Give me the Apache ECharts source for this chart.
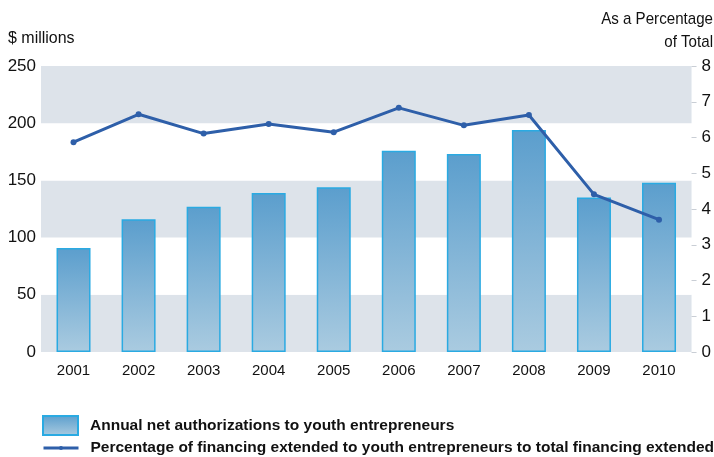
<!DOCTYPE html>
<html>
<head>
<meta charset="utf-8">
<script src="https://cdn.jsdelivr.net/npm/echarts@6/dist/echarts.min.js"></script>
<style>
  html, body { margin: 0; padding: 0; background: #fff; }
  #chart { width: 714px; height: 457px; }
</style>
</head>
<body>
<div id="chart"></div>
<script>
// Youth entrepreneur financing, 2001-2010
const years = ['2001', '2002', '2003', '2004', '2005', '2006', '2007', '2008', '2009', '2010'];
// Annual net authorizations ($ millions)
const authorizations = [91, 116, 127, 139, 144, 176, 173, 194, 135, 148];
// Share of total financing (%)
const percentOfTotal = [5.87, 6.65, 6.11, 6.38, 6.15, 6.83, 6.34, 6.63, 4.41, 3.70];

const barName = 'Annual net authorizations to youth entrepreneurs';
const lineName = 'Percentage of financing extended to youth entrepreneurs to total financing extended';

const sans = '"Liberation Sans", Arial, Helvetica, sans-serif';
const lineColor = '#2e5fa9';

const barFill = new echarts.graphic.LinearGradient(0, 0, 0, 1, [
  { offset: 0, color: '#5b9ecd' },
  { offset: 1, color: '#aacbe0' }
]);

const chart = echarts.init(document.getElementById('chart'), null, { renderer: 'canvas' });

chart.setOption({
  animation: false,
  backgroundColor: '#ffffff',
  grid: { left: 41, right: 22, top: 66, bottom: 105 },
  graphic: [
    {
      type: 'text', left: 8, top: 30, scaleX: 0.94,
      style: { text: '$ millions', font: '17px ' + sans, fill: '#111' }
    },
    {
      type: 'text', x: 713, y: 8, scaleX: 0.89,
      style: {
        text: 'As a Percentage\nof Total', font: '17px ' + sans, fill: '#111',
        align: 'right', lineHeight: 23
      }
    }
  ],
  legend: [
    {
      data: [{ name: barName, icon: 'rect' }],
      left: 42, top: 415, padding: 0,
      itemWidth: 35, itemHeight: 19,
      textStyle: { fontFamily: sans, fontWeight: 'bold', fontSize: 15.5, color: '#111', padding: [0, 0, 0, 7] }
    },
    {
      data: [lineName],
      left: 42, top: 440, padding: 0,
      itemWidth: 35, itemHeight: 5,
      lineStyle: { width: 3 },
      textStyle: { fontFamily: sans, fontWeight: 'bold', fontSize: 15.5, color: '#111', padding: [0, 0, 0, 7] }
    }
  ],
  xAxis: {
    type: 'category',
    data: years,
    axisLine: { show: false },
    axisTick: { show: false },
    axisLabel: { margin: 11, fontFamily: sans, fontSize: 15, color: '#111' }
  },
  yAxis: [
    {
      type: 'value', min: 0, max: 250, interval: 50,
      axisLine: { show: false },
      axisTick: { show: false },
      splitLine: { show: false },
      splitArea: { show: true, areaStyle: { color: ['#dde3ea', '#ffffff'] } },
      axisLabel: { margin: 5, fontFamily: sans, fontSize: 17, color: '#111' }
    },
    {
      type: 'value', min: 0, max: 8, interval: 1,
      axisLine: { show: false },
      axisTick: { show: true, length: 5, lineStyle: { color: '#c9ced5', width: 1 } },
      splitLine: { show: false },
      axisLabel: { margin: 10, fontFamily: sans, fontSize: 17, color: '#111' }
    }
  ],
  series: [
    {
      name: barName,
      type: 'bar',
      data: authorizations,
      barWidth: 34,
      itemStyle: { color: barFill, borderColor: '#2aaae2', borderWidth: 1.5 }
    },
    {
      name: lineName,
      type: 'line',
      yAxisIndex: 1,
      data: percentOfTotal,
      symbol: 'circle',
      symbolSize: 6,
      lineStyle: { color: lineColor, width: 3 },
      itemStyle: { color: lineColor }
    }
  ]
});
</script>
</body>
</html>
